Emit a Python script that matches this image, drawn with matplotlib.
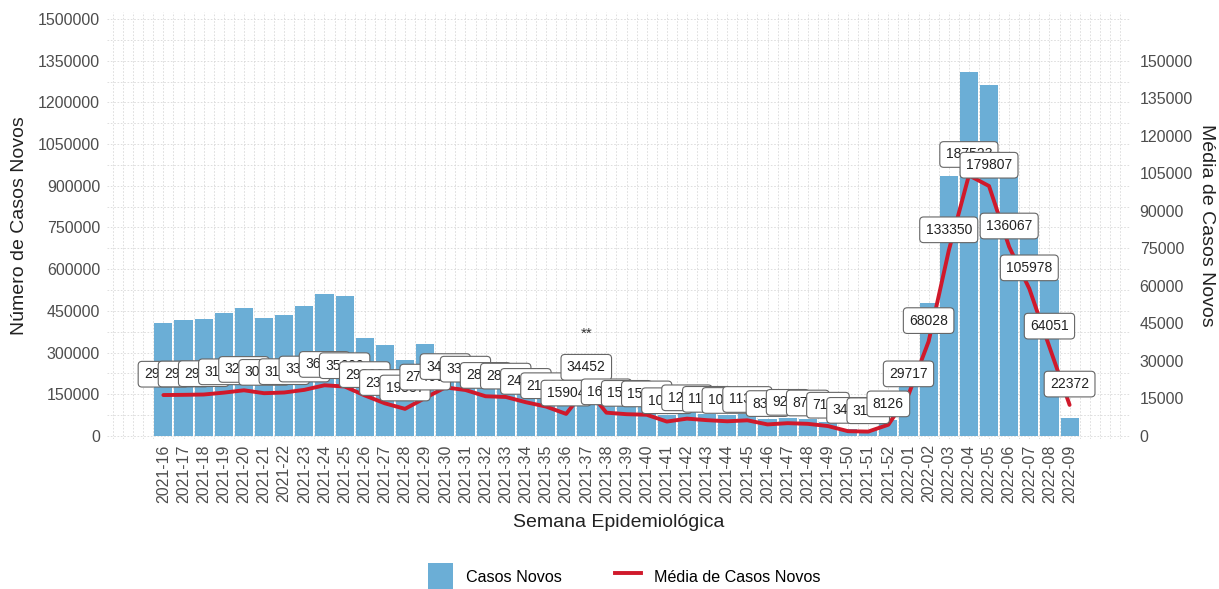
import matplotlib
matplotlib.use("Agg")
import matplotlib.pyplot as plt
from matplotlib.patches import Patch
from matplotlib.lines import Line2D
import numpy as np

plt.rcParams['font.family'] = ['Liberation Sans', 'DejaVu Sans']

semanas = [f"2021-{w:02d}" for w in range(16, 53)] + [f"2022-{w:02d}" for w in range(1, 10)]

casos_novos = [406000, 417000, 420000, 442000, 460000, 424000, 435000, 468000, 511000, 504000,
               352000, 327000, 272000, 331000, 285000, 265000, 235000, 215000, 190000, 165000,
               115000, 240000, 118000, 110000, 106000, 75000, 88000, 80000, 74000, 80000,
               60000, 66000, 62000, 52000, 24000, 22000, 58000,
               208000, 478000, 935000, 1309000, 1262000, 950000, 740000, 560000, 64000]

media_casos = [29480, 29620, 29850, 31200, 32900, 30800, 31300, 33200, 36500, 35600,
               29200, 23500, 19537, 27400, 34963, 33100, 28600, 28100, 24300, 21200,
               15904, 34452, 16800, 15700, 15300, 10400, 12500, 11400, 10600, 11300,
               8350, 9240, 8760, 7180, 3460, 3192, 8126,
               29717, 68028, 133350, 187523, 179807, 136067, 105978, 64051, 22372]

semana_nota = "2021-37"
nota = "**"

FATOR_LINHA = 5      # line drawn as media * 5 on the primary scale
FATOR_EIXO2 = 9      # secondary axis = primary / 9

cor_barra = "#6BAED6"
cor_linha = "#D0192B"
cinza = "#4D4D4D"

fig = plt.figure(figsize=(12.19, 5.89), dpi=100)
ax = fig.add_axes([107/1219, 1 - 438.8/589, (1130 - 107)/1219, (438.8 - 12)/589])

x = np.arange(len(semanas))
ax.bar(x, casos_novos, width=0.9, color=cor_barra, zorder=2)
linha_y = np.array(media_casos) * FATOR_LINHA
ax.plot(x, linha_y, color=cor_linha, lw=2.8, zorder=3, solid_capstyle='round')

for i, (xi, yi, v) in enumerate(zip(x, linha_y, media_casos)):
    ax.annotate(str(v), xy=(xi, yi), xytext=(0, 15), textcoords='offset points',
                ha='center', va='center', fontsize=10, color='#222222', zorder=4 + i * 0.01,
                bbox=dict(boxstyle='round,pad=0.42,rounding_size=0.28', fc='white',
                          ec='#666666', lw=0.8))

i_nota = semanas.index(semana_nota)
ax.annotate(nota, xy=(i_nota, linha_y[i_nota]), xytext=(0, 39), textcoords='offset points',
            ha='center', va='center', fontsize=11, color='#333333', zorder=6)

ax.set_xlim(-2.8, len(semanas) - 1 + 2.87)
ax.set_ylim(-10000, 1525000)
ax.set_yticks(np.arange(0, 1500001, 150000))
ax.set_yticks(np.arange(75000, 1500000, 150000), minor=True)
ax.set_xticks(x)
ax.set_xticklabels(semanas, rotation=90)
ax.set_xticks(np.arange(-2.5, len(semanas) + 2.5, 0.5), minor=True)

ax.grid(True, which='both', color='#D9D9D9', lw=0.6, ls=(0, (2, 2)), zorder=0)
ax.set_axisbelow(True)
for s in ax.spines.values():
    s.set_visible(False)
ax.tick_params(which='both', length=0)
ax.tick_params(axis='y', labelsize=11.5, labelcolor=cinza, pad=5)
ax.tick_params(axis='x', labelsize=11.5, labelcolor=cinza, pad=4)
ax.yaxis.set_major_formatter(matplotlib.ticker.FuncFormatter(lambda v, p: f"{int(v)}"))

ax.set_ylabel("Número de Casos Novos", fontsize=14, color='#222222', labelpad=7)
ax.set_xlabel("Semana Epidemiológica", fontsize=14, color='#222222', labelpad=8)

sec = ax.secondary_yaxis('right', functions=(lambda v: v / FATOR_EIXO2, lambda v: v * FATOR_EIXO2))
sec.set_yticks(np.arange(0, 150001, 15000))
sec.yaxis.set_major_formatter(matplotlib.ticker.FuncFormatter(lambda v, p: f"{int(round(v))}"))
sec.tick_params(length=0, labelsize=11.5, labelcolor=cinza, pad=7)
for s in sec.spines.values():
    s.set_visible(False)
sec.set_ylabel("Média de Casos Novos", fontsize=14, color='#222222', rotation=-90, labelpad=16)

handles = [Patch(facecolor=cor_barra, edgecolor='none', label='Casos Novos'),
           Line2D([0], [0], color=cor_linha, lw=2.8, label='Média de Casos Novos')]
fig.legend(handles=handles, loc='lower center', bbox_to_anchor=(0.512, -0.027), ncol=2,
           frameon=False, fontsize=11.6, handlelength=1.6, handleheight=2.2,
           handletextpad=0.8, columnspacing=3.3)

fig.savefig("out.png", dpi=100)
